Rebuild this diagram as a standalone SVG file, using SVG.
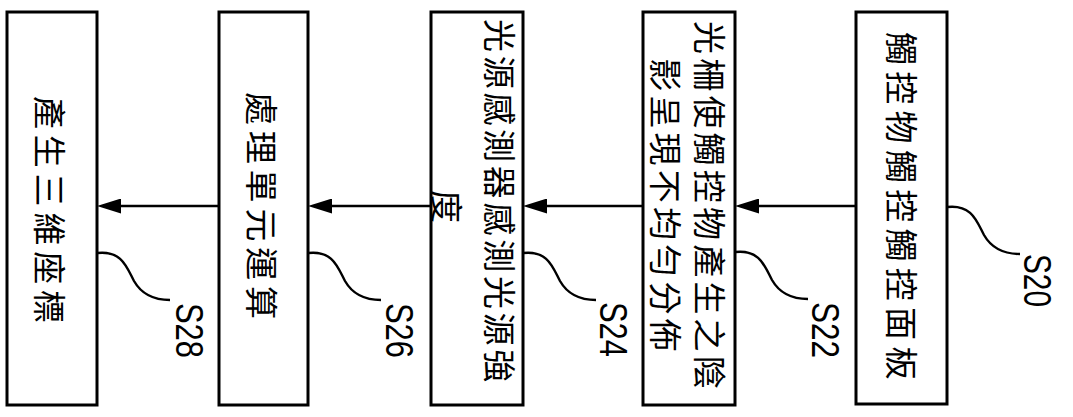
<svg xmlns="http://www.w3.org/2000/svg" width="1073" height="417" viewBox="0 0 1073 417">
<style>
.box{fill:#fff;stroke:#000;stroke-width:3}
.t{font-family:"Noto Sans CJK TC","Noto Sans CJK SC",sans-serif;font-size:33px;fill:#000;dominant-baseline:central}
.lb{font-family:"Liberation Sans",Arial,sans-serif;font-size:38px;fill:#000}
.arr{stroke:#000;stroke-width:2.6;fill:none;marker-end:url(#ah)}
.ld{stroke:#000;stroke-width:2.4;fill:none}
</style>
<defs>
<marker id="ah" viewBox="0 0 24 15" refX="4" refY="7.5" markerWidth="24" markerHeight="15" markerUnits="userSpaceOnUse" orient="auto">
<path d="M0,0 L24,7.5 L0,15 z" fill="#000"/>
</marker>
<path id="leader" d="m0,0 c25,-3 30,15 37,28 c8,14 20,19 36,19"/>
</defs>
<rect width="1073" height="417" fill="#fff"/>
<g id="connectors">
<line class="arr" x1="856" y1="206" x2="755" y2="206"/>
<line class="arr" x1="643" y1="206" x2="543" y2="206"/>
<line class="arr" x1="431" y1="206" x2="328" y2="206"/>
<line class="arr" x1="219" y1="206" x2="117" y2="206"/>
</g>
<g id="S20">
<rect class="box" x="856" y="12" width="91" height="392"/>
<text class="t" transform="translate(903,0) rotate(90)" x="32" y="0" letter-spacing="6.3">觸控物觸控觸控面板</text>
<use href="#leader" class="ld" x="947" y="207"/>
<text class="lb" transform="translate(1024,0) rotate(90)" x="254" y="0" textLength="53" lengthAdjust="spacingAndGlyphs">S20</text>
</g>
<g id="S22">
<rect class="box" x="643" y="12" width="92" height="393"/>
<text class="t" transform="translate(711,0) rotate(90)" x="21" y="0" letter-spacing="4.2">光柵使觸控物產生之陰</text>
<text class="t" transform="translate(667,0) rotate(90)" x="58.2" y="0" letter-spacing="4.2">影呈現不均勻分佈</text>
<use href="#leader" class="ld" x="735" y="252"/>
<text class="lb" transform="translate(812,0) rotate(90)" x="302" y="0" textLength="56" lengthAdjust="spacingAndGlyphs">S22</text>
</g>
<g id="S24">
<rect class="box" x="431" y="12" width="92" height="393"/>
<text class="t" transform="translate(501,0) rotate(90)" x="19" y="0" letter-spacing="3.7">光源感測器感測光源強</text>
<text class="t" transform="translate(448,0) rotate(90)" x="190" y="0">度</text>
<use href="#leader" class="ld" x="523" y="253"/>
<text class="lb" transform="translate(600,0) rotate(90)" x="302" y="0" textLength="55" lengthAdjust="spacingAndGlyphs">S24</text>
</g>
<g id="S26">
<rect class="box" x="219" y="12" width="89" height="393"/>
<text class="t" transform="translate(263,0) rotate(90)" x="92" y="0" letter-spacing="5.8">處理單元運算</text>
<use href="#leader" class="ld" x="308" y="253"/>
<text class="lb" transform="translate(386,0) rotate(90)" x="303" y="0" textLength="55" lengthAdjust="spacingAndGlyphs">S26</text>
</g>
<g id="S28">
<rect class="box" x="7" y="12" width="90" height="393"/>
<text class="t" transform="translate(51,0) rotate(90)" x="96" y="0" letter-spacing="5.8">產生三維座標</text>
<use href="#leader" class="ld" x="97" y="253"/>
<text class="lb" transform="translate(176,0) rotate(90)" x="303" y="0" textLength="55" lengthAdjust="spacingAndGlyphs">S28</text>
</g>
</svg>
